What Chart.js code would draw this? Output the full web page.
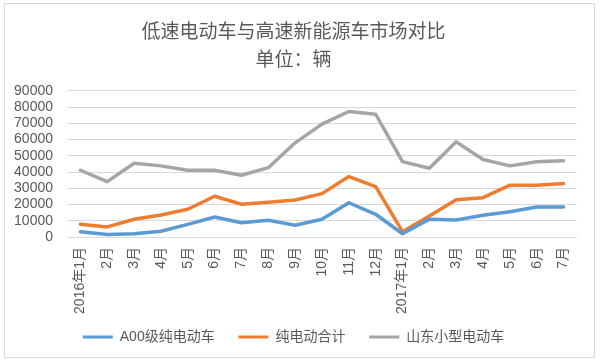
<!DOCTYPE html>
<html>
<head>
<meta charset="utf-8">
<script src="https://cdn.jsdelivr.net/npm/chart.js@4"></script>
<style>
  html, body { margin: 0; padding: 0; background: #fff; }
  #wrap { width: 600px; height: 362px; position: relative; }
</style>
</head>
<body>
<div id="wrap"><canvas id="cmpChart" width="600" height="362"></canvas></div>
<script>
// data
const months = ["2016年1月","2月","3月","4月","5月","6月","7月","8月","9月","10月","11月","12月",
                "2017年1月","2月","3月","4月","5月","6月","7月"];
const a00Ev    = [3300,1600,2000,3500,7800,12300,8800,10300,7200,10900,21100,14000,2000,10900,10500,13400,15600,18500,18500];
const pureEvSum = [7800,6200,10900,13600,17100,25100,20200,21400,22800,26700,37200,31000,3300,12900,23000,24200,31900,31800,32900];
const sdSmallEv = [41100,34100,45400,43800,41100,41100,38000,42700,58000,69500,77300,75600,46400,42300,58600,47700,43800,46400,46900];
const seriesNames = ["A00级纯电动车","纯电动合计","山东小型电动车"];
const titleLines  = ["低速电动车与高速新能源车市场对比","单位：辆"];
const yMin = 0, yMax = 90000, yStep = 10000;

const FONT = '"Liberation Sans", "Noto Sans CJK SC", sans-serif';
const TEXT = "#595959";
const colors = ["#5B9BD5","#ED7D31","#A5A5A5"];

// white background + thin frame like the Excel chart area
const framePlugin = {
  id: "frame",
  beforeDraw(chart) {
    const c = chart.ctx;
    c.save();
    c.fillStyle = "#fff";
    c.fillRect(0, 0, chart.width, chart.height);
    c.strokeStyle = "#d9d9d9";
    c.lineWidth = 1;
    c.strokeRect(4.5, 3.5, 590, 354);
    c.restore();
  }
};

const mkSet = (label, data, color) => ({
  label, data,
  borderColor: color,
  backgroundColor: color,
  borderWidth: 3.5,
  borderJoinStyle: "round",
  borderCapStyle: "round",
  pointRadius: 0,
  pointHoverRadius: 0,
  tension: 0,
  fill: false
});

new Chart(document.getElementById("cmpChart"), {
  type: "line",
  data: {
    labels: months,
    datasets: [
      mkSet(seriesNames[0], a00Ev, colors[0]),
      mkSet(seriesNames[1], pureEvSum, colors[1]),
      mkSet(seriesNames[2], sdSmallEv, colors[2])
    ]
  },
  options: {
    responsive: false,
    animation: false,
    layout: { padding: { left: 10, right: 23, top: 9, bottom: 8 } },
    scales: {
      x: {
        offset: true,
        grid: { display: false, drawTicks: false },
        border: { display: false },
        ticks: {
          color: TEXT,
          font: { family: FONT, size: 14 },
          minRotation: 90, maxRotation: 90,
          autoSkip: false,
          padding: 10
        },
        afterFit: s => { s.height = 77; }
      },
      y: {
        min: yMin, max: yMax,
        grid: { color: "#d9d9d9", lineWidth: 1, drawTicks: false },
        border: { display: false },
        ticks: {
          stepSize: yStep,
          autoSkip: false,
          color: TEXT,
          font: { family: FONT, size: 14 },
          padding: 14,
          callback: v => String(v)
        },
        afterFit: s => { s.width = 57; }
      }
    },
    plugins: {
      title: {
        display: true,
        text: titleLines,
        color: TEXT,
        font: { family: FONT, size: 19, weight: "normal", lineHeight: 1.47 },
        padding: { top: 10, bottom: 16 }
      },
      legend: {
        position: "bottom",
        labels: {
          color: TEXT,
          font: { family: FONT, size: 14 },
          boxWidth: 30,
          boxHeight: 3,
          padding: 16,
          // trailing spaces widen the gap between items without growing the row height
          generateLabels: chart =>
            Chart.defaults.plugins.legend.labels.generateLabels(chart)
              .map((l, i, all) => ({ ...l, lineWidth: 0, text: i < all.length - 1 ? l.text + "  " : l.text }))
        }
      },
      tooltip: { enabled: false }
    }
  },
  plugins: [framePlugin]
});
</script>
</body>
</html>
